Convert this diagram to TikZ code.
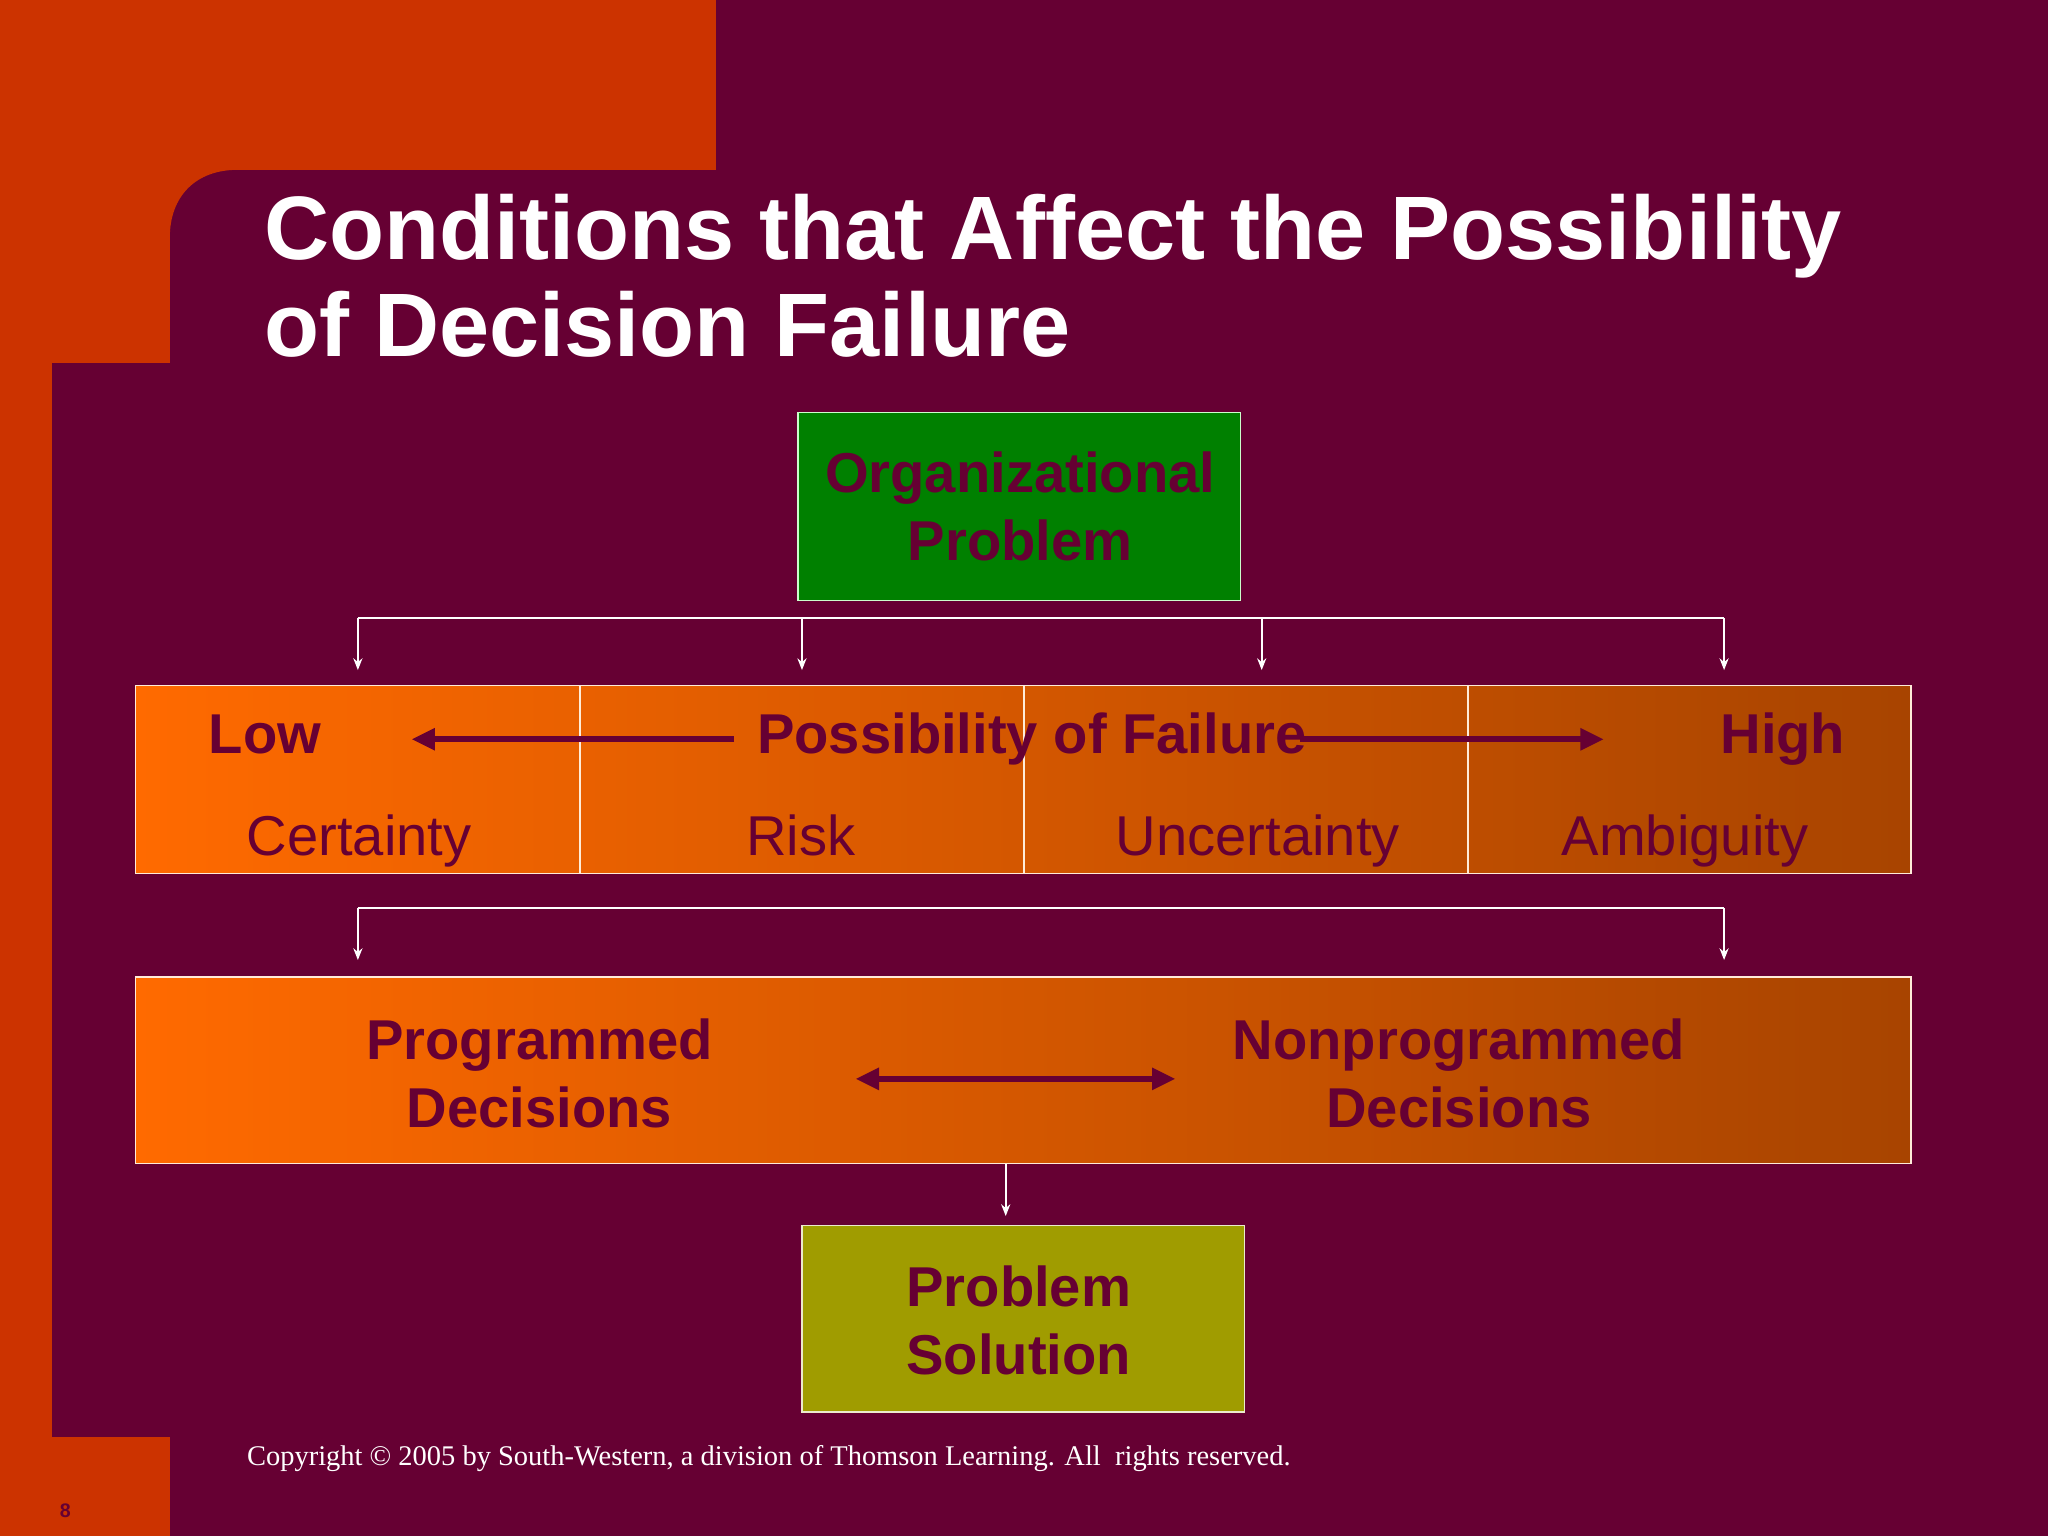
\documentclass[tikz,border=0pt]{standalone}
\usepackage{fontspec}
\setmainfont{Liberation Sans}
\newfontfamily\serifcopy{Liberation Serif}
\usetikzlibrary{arrows.meta}
\definecolor{maroon}{HTML}{660033}
\definecolor{orangered}{HTML}{CC3300}
\definecolor{boxL}{HTML}{FF6A00}
\definecolor{boxR}{HTML}{A84400}
\definecolor{olive}{HTML}{A09C00}
\definecolor{grn}{HTML}{008000}
\tikzset{
  conn/.style={draw=white,line width=1.3pt,-{Stealth[length=9pt,width=7pt]}},
  plain/.style={draw=white,line width=1.3pt},
  bigarrow/.style={draw=maroon,line width=4.5pt,-{Triangle[length=18pt,width=16pt]}},
  bt/.style={text=maroon,font=\bfseries\fontsize{43}{52}\selectfont,align=center},
  rt/.style={text=maroon,font=\fontsize{43}{52}\selectfont,anchor=base},
}
\begin{document}
\begin{tikzpicture}[x=1pt,y=-1pt]
\useasboundingbox (0,0) rectangle (1568,1176);
\fill[maroon] (0,0) rectangle (1568,1176);
\fill[orangered] (0,0) rectangle (548,130);
\fill[orangered] (0,0) rectangle (130,278);
\fill[orangered] (0,0) rectangle (40,1176);
\fill[orangered] (0,1100) rectangle (130,1176);
\fill[orangered] (130,130) -- (182,130) .. controls (150,130) and (130,150) .. (130,182) -- cycle;
% title
\node[anchor=base west,text=white,font=\bfseries\fontsize{69}{74}\selectfont,align=left,inner sep=0] (title) at (202,273) {Conditions that Affect the Possibility\\of Decision Failure};
% top box
\draw[draw=white!80!green,line width=1pt,fill=grn] (611,316) rectangle (950,460);
\node[bt] (org) at (781,388) {Organizational\\Problem};
% row box
\shade[left color=boxL,right color=boxR] (104,525) rectangle (1463,669);
\draw[white!85!orange,line width=1pt] (104,525) rectangle (1463,669);
\foreach \x in {444,784,1124}{\draw[white!85!orange,line width=1pt] (\x,525) -- (\x,669);}
\node[bt,anchor=base] (low) at (203,577) {Low};
\node[bt,anchor=base] (pof) at (790,577) {Possibility of Failure};
\node[bt,anchor=base] (high) at (1365,577) {High};
\node[rt] (c1) at (275,655) {Certainty};
\node[rt] (c2) at (613,655) {Risk};
\node[rt] (c3) at (963,655) {Uncertainty};
\node[rt] (c4) at (1290,655) {Ambiguity};
\coordinate (la) at (562,566); \coordinate (lb) at (315,566);
\coordinate (ra) at (995,566); \coordinate (rb) at (1228,566);
\draw[bigarrow] (la) -- (lb);
\draw[bigarrow] (ra) -- (rb);
% connectors 1
\coordinate (h1a) at (274,473); \coordinate (h1b) at (1320,473);
\draw[plain] (h1a) -- (h1b);
\foreach \x in {274,614,966,1320}{\draw[conn] (\x,473) -- (\x,513);}
% connectors 2
\coordinate (h2a) at (274,695); \coordinate (h2b) at (1320,695);
\draw[plain] (h2a) -- (h2b);
\foreach \x in {274,1320}{\draw[conn] (\x,695) -- (\x,735);}
% box 2
\shade[left color=boxL,right color=boxR] (104,748) rectangle (1463,891);
\draw[white!85!orange,line width=1pt] (104,748) rectangle (1463,891);
\node[bt] (prog) at (413,822) {Programmed\\Decisions};
\node[bt] (nprog) at (1117,822) {Nonprogrammed\\Decisions};
\coordinate (da) at (655,826); \coordinate (db) at (900,826);
\draw[bigarrow,{Triangle[length=18pt,width=16pt]}-{Triangle[length=18pt,width=16pt]}] (da) -- (db);
% box 3
\draw[draw=white!80!olive,line width=1pt,fill=olive] (614,938) rectangle (953,1081);
\node[bt] (sol) at (780,1011) {Problem\\Solution};
\coordinate (b2s) at (770,891);
\draw[conn] (b2s) -- (770,931);
% footer
\node[anchor=west,text=white,font=\serifcopy\fontsize{21.8}{26}\selectfont,inner sep=0] (copy) at (189,1117) {Copyright © 2005 by South-Western, a division of Thomson Learning. All\ \ rights reserved.};
\node[text=maroon,font=\bfseries\fontsize{15}{18}\selectfont] (pg) at (50,1157) {8};
\end{tikzpicture}
\end{document}
